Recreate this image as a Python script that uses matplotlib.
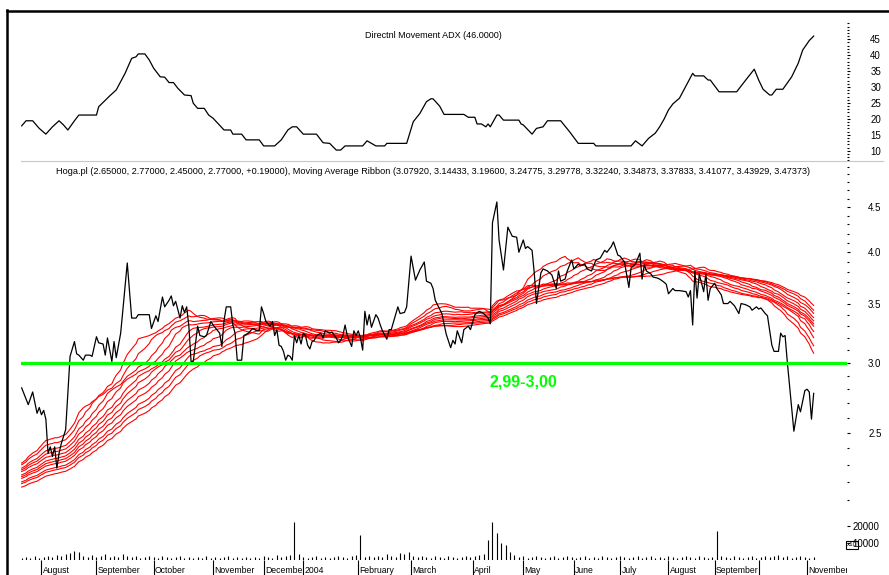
import numpy as np
import matplotlib
matplotlib.use("Agg")
import matplotlib.pyplot as plt
from matplotlib.lines import Line2D
from matplotlib.transforms import Bbox, TransformedBbox, blended_transform_factory
from matplotlib.ticker import FixedLocator, NullFormatter

plt.rcParams['font.family'] = ['Liberation Sans', 'DejaVu Sans']
plt.rcParams['font.size'] = 7

# Hoga.pl close, by session number
close_s = [0, 2, 3, 5, 7, 8, 9, 10, 11, 12, 13, 14, 15, 16, 17, 18, 20, 22, 24, 25,
           26, 28, 29, 31, 32, 34, 35, 37, 38, 39, 41, 42, 43, 45, 46, 48, 50, 52, 53, 56,
           58, 59, 61, 62, 64, 65, 67, 68, 69, 70, 72, 73, 74, 75, 76, 77, 78, 80, 81, 83,
           84, 86, 87, 90, 91, 92, 93, 95, 96, 97, 98, 100, 101, 103, 105, 107, 108, 109, 110, 111,
           112, 113, 114, 115, 116, 117, 118, 119, 120, 121, 122, 123, 124, 125, 126, 127, 128, 129, 130, 131,
           132, 133, 134, 136, 137, 138, 140, 141, 143, 144, 145, 146, 147, 148, 150, 151, 152, 153, 154, 155,
           156, 157, 158, 159, 161, 162, 163, 164, 166, 167, 168, 171, 172, 174, 175, 177, 179, 181, 183, 184,
           186, 187, 188, 190, 191, 193, 195, 196, 197, 198, 200, 201, 203, 204, 206, 208, 210, 212, 213, 214,
           216, 217, 219, 221, 223, 225, 226, 228, 229, 230, 232, 233, 234, 236, 237, 239, 241, 243, 244, 245,
           247, 248, 250, 251, 253, 254, 256, 257, 259, 260, 261, 263, 265, 266, 268, 269, 271, 272, 274, 276,
           277, 279, 281, 282, 283, 284, 286, 287, 289, 290, 292, 293, 294, 296, 297, 299, 302, 303, 304, 305,
           306, 307, 308, 310, 311, 312, 313, 315, 316, 318, 319, 321, 322, 324, 326, 327, 329, 331, 332, 334,
           335, 336, 338, 339, 341, 342, 344, 345, 346, 347, 348, 351, 353, 354, 356, 357, 358, 359, 360]
close = [2.81, 2.73, 2.69, 2.78, 2.63, 2.67, 2.62, 2.65, 2.59, 2.37, 2.41, 2.35, 2.41, 2.28, 2.37, 2.43, 2.52, 3.05, 3.17, 3.07,
         3.06, 3.02, 3.06, 3.06, 3.05, 3.21, 3.16, 3.15, 3.06, 3.20, 3.01, 3.17, 3.04, 3.24, 3.44, 3.89, 3.37, 3.37, 3.40, 3.40,
         3.40, 3.28, 3.39, 3.34, 3.56, 3.47, 3.53, 3.57, 3.48, 3.52, 3.37, 3.48, 3.42, 3.47, 3.30, 3.01, 3.01, 3.30, 3.22, 3.21,
         3.22, 3.34, 3.31, 3.24, 3.13, 3.35, 3.47, 3.47, 3.31, 3.24, 3.02, 3.02, 3.22, 3.24, 3.28, 3.26, 3.26, 3.47, 3.41, 3.34,
         3.32, 3.30, 3.34, 3.22, 3.27, 3.14, 3.13, 3.09, 3.02, 3.06, 3.05, 3.02, 3.22, 3.16, 3.22, 3.15, 3.24, 3.22, 3.14, 3.11,
         3.17, 3.18, 3.22, 3.24, 3.20, 3.26, 3.24, 3.25, 3.20, 3.16, 3.18, 3.22, 3.31, 3.22, 3.13, 3.26, 3.22, 3.26, 3.20, 3.10,
         3.43, 3.31, 3.40, 3.29, 3.40, 3.37, 3.31, 3.26, 3.19, 3.27, 3.27, 3.47, 3.41, 3.42, 3.47, 3.96, 3.72, 3.82, 3.90, 3.71,
         3.69, 3.64, 3.53, 3.45, 3.41, 3.23, 3.12, 3.18, 3.15, 3.26, 3.16, 3.27, 3.30, 3.27, 3.40, 3.43, 3.41, 3.37, 3.32, 4.32,
         4.56, 4.13, 3.82, 4.27, 4.17, 4.16, 4.00, 4.13, 4.04, 4.06, 4.02, 3.79, 3.50, 3.79, 3.83, 3.81, 3.77, 3.64, 3.81, 3.71,
         3.73, 3.81, 3.92, 3.83, 3.88, 3.86, 3.88, 3.83, 3.81, 3.86, 3.92, 3.94, 4.02, 4.00, 4.06, 4.11, 3.97, 3.96, 3.90, 3.65,
         3.84, 3.88, 3.99, 3.73, 3.87, 3.81, 3.78, 3.75, 3.74, 3.73, 3.70, 3.68, 3.59, 3.64, 3.62, 3.62, 3.61, 3.56, 3.62, 3.31,
         3.81, 3.55, 3.78, 3.61, 3.78, 3.53, 3.64, 3.69, 3.64, 3.58, 3.50, 3.50, 3.52, 3.48, 3.41, 3.50, 3.49, 3.47, 3.44, 3.47,
         3.45, 3.46, 3.41, 3.39, 3.14, 3.09, 3.09, 3.24, 3.21, 3.22, 3.01, 2.51, 2.69, 2.64, 2.79, 2.80, 2.78, 2.59, 2.77]

# Directional Movement ADX
adx_s = [0, 2, 5, 8, 11, 14, 17, 19, 21, 24, 26, 34, 35, 40, 43, 47, 50, 52, 53, 56,
         58, 60, 63, 65, 67, 69, 71, 74, 77, 78, 80, 83, 85, 87, 92, 95, 96, 100, 102, 108,
         110, 115, 118, 121, 123, 125, 128, 134, 137, 140, 143, 145, 147, 155, 157, 161, 165, 166, 175, 178,
         181, 184, 186, 187, 190, 192, 201, 203, 206, 207, 209, 211, 212, 213, 216, 217, 219, 226, 227, 228,
         232, 234, 237, 239, 245, 249, 253, 260, 261, 277, 279, 282, 285, 288, 290, 292, 294, 296, 299, 301,
         303, 305, 306, 310, 312, 313, 317, 325, 328, 333, 335, 337, 340, 341, 343, 346, 350, 353, 355, 358, 360]
adx = [17.8, 19.4, 19.4, 17.0, 15.2, 17.5, 19.4, 18.1, 16.5, 19.4, 21.2, 21.2, 23.8, 27.2, 29.1, 34.3, 39.0, 39.5, 40.4, 40.4,
       38.5, 35.9, 33.2, 33.1, 31.4, 31.4, 29.6, 27.5, 27.3, 24.9, 23.3, 23.3, 21.2, 20.2, 16.5, 16.5, 15.2, 15.2, 13.4, 13.4,
       11.5, 11.5, 13.4, 16.5, 17.5, 17.5, 15.2, 15.2, 12.5, 12.3, 10.2, 10.2, 11.5, 11.5, 13.1, 11.5, 11.5, 12.3, 12.3, 19.1,
       21.7, 25.4, 26.3, 26.3, 24.0, 21.4, 21.4, 20.5, 20.5, 18.4, 18.4, 17.5, 18.4, 17.5, 21.2, 21.2, 19.6, 19.6, 18.4, 18.1,
       15.2, 17.0, 17.5, 19.4, 19.4, 16.0, 12.3, 12.3, 11.5, 11.5, 13.1, 11.5, 13.9, 15.5, 17.5, 19.9, 22.8, 24.7, 26.5, 29.1,
       31.7, 34.3, 33.5, 33.5, 32.2, 32.2, 28.5, 28.5, 31.2, 35.6, 32.2, 29.3, 27.5, 27.5, 29.3, 29.3, 33.2, 37.5, 41.6, 44.6, 46.0]

# moving average ribbon: window (in closes) and value at the first session
ribbon_windows = [22, 26, 31, 35, 40, 43, 47, 51, 56, 60, 65]
ribbon_first = [2.31, 2.30, 2.28, 2.27, 2.26, 2.24, 2.23, 2.22, 2.20, 2.19, 2.17]

# volume, every second session
vol_s = list(range(0, 361, 2))
vol = [1200, 1800, 1200, 2400, 1200, 1800, 2400, 1800, 3000, 2400,
       3600, 4200, 5400, 4800, 2400, 1800, 3000, 1800, 2400, 3600,
       1800, 2400, 1800, 3600, 2400, 1800, 2400, 1200, 1800, 2400,
       1800, 1200, 2400, 1800, 1200, 1800, 2400, 1200, 1800, 1200,
       1800, 1200, 2400, 1200, 1800, 1200, 1800, 2400, 1200, 1800,
       1200, 1800, 1200, 1800, 1200, 2400, 1800, 1200, 3000, 1800,
       2400, 3000, 22500, 3600, 1800, 1200, 1800, 2400, 1200, 1800,
       1200, 1800, 2400, 1800, 1200, 2400, 3000, 14700, 1800, 2400,
       1800, 2400, 1800, 3600, 2400, 1800, 4200, 3600, 4800, 2400,
       1800, 2400, 1800, 1200, 2400, 1800, 1200, 2400, 1800, 1200,
       1800, 2400, 1800, 2400, 3000, 3600, 11800, 22500, 16000, 10000,
       8800, 4800, 3000, 1800, 2400, 1200, 1800, 2400, 1800, 1200,
       1800, 2400, 1200, 1800, 2400, 1800, 1200, 1800, 2400, 1200,
       1800, 1200, 2400, 1800, 1200, 1800, 2400, 1800, 1200, 1800,
       2400, 1200, 1800, 2400, 1200, 1800, 1200, 2400, 1800, 1200,
       1800, 2400, 1800, 1200, 2400, 1800, 1200, 1800, 17200, 2400,
       1800, 1200, 2400, 1800, 1200, 1800, 2400, 1200, 1800, 2400,
       1800, 2400, 3000, 1800, 2400, 1200, 1800, 2400, 1800, 1200,
       1800]

# first session of each month
month_s = [9, 34, 60, 87, 110, 128, 153, 177, 205, 228, 251, 272, 294, 315, 335, 357]
month_lbl = ['August', 'September', 'October', 'November', 'December', '2004', 'February',
             'March', 'April', 'May', 'June', 'July', 'August', 'September', '', 'November']

price_ticks = [2.5, 3.0, 3.5, 4.0, 4.5]
level = 3.0
level_txt = '2,99-3,00'


def ribbon_line(window, first):
    # simple moving average; closes before the chart are taken as one flat level
    pre = (window * first - close[0]) / (window - 1)
    out = []
    for i in range(len(close)):
        seen = close[max(0, i - window + 1):i + 1]
        out.append((sum(seen) + (window - len(seen)) * pre) / window)
    return out


W, H = 889, 575
fig = plt.figure(figsize=(W / 100, H / 100), dpi=100)


def box(x0, y0, x1, y1):
    return [x0 / W, 1 - y1 / H, (x1 - x0) / W, (y1 - y0) / H]


ax_adx = fig.add_axes(box(21, 10, 847, 161))
ax_p = fig.add_axes(box(21, 162, 847, 517))
ax_v = fig.add_axes(box(21, 517, 847, 560))
ax_v.set_zorder(5)

for ax in (ax_adx, ax_p, ax_v):
    ax.set_xlim(-0.3, 375.15)
    ax.patch.set_visible(False)
    for sp in ax.spines.values():
        sp.set_visible(False)
    ax.yaxis.tick_right()
    ax.tick_params(axis='y', which='major', length=2.2, width=0.8, labelsize=7)
    ax.tick_params(axis='y', which='minor', length=1.2, width=0.8)

# ADX panel
ax_adx.plot(adx_s, adx, color='black', lw=0.9)
ax_adx.set_ylim(6.76, 54.2)
ax_adx.set_xticks([])
ax_adx.yaxis.set_major_locator(FixedLocator(list(range(10, 50, 5))))
ax_adx.yaxis.set_minor_locator(FixedLocator(list(range(7, 51))))
ax_adx.tick_params(axis='y', which='major', pad=14.5)
fig.text(433 / W, 1 - 36 / H, 'Directnl Movement ADX (46.0000)', ha='center', va='center', fontsize=6.5)

# price panel
for window, first in zip(ribbon_windows, ribbon_first):
    ax_p.plot(close_s, ribbon_line(window, first), color='red', lw=0.8)
ax_p.plot(close_s, close, color='black', lw=0.9, zorder=3)
ax_p.axhline(level, color='#00ff00', lw=2.3, zorder=4)
ax_p.text(212.5, 2.853, level_txt, color='#00ff00', fontsize=11.5, fontweight='bold',
          ha='left', va='center')
ax_p.set_yscale('log')
ax_p.set_ylim(2.0075, 5.06)
ax_p.set_xticks([])
ax_p.yaxis.set_major_locator(FixedLocator(price_ticks))
ax_p.yaxis.set_major_formatter(plt.FixedFormatter(['%.1f' % t for t in price_ticks]))
ax_p.yaxis.set_minor_locator(FixedLocator(np.round(np.arange(2.0, 5.05, 0.1), 1)))
ax_p.yaxis.set_minor_formatter(NullFormatter())
ax_p.tick_params(axis='y', which='major', pad=13)

title = ('Hoga.pl (2.65000, 2.77000, 2.45000, 2.77000, +0.19000), Moving Average Ribbon '
         '(3.07920, 3.14433, 3.19600, 3.24775, 3.29778, 3.32240, 3.34873, 3.37833, 3.41077, '
         '3.43929, 3.47373)')
fig.text(433 / W, 1 - 172 / H, title, ha='center', va='center', fontsize=6.6)

# volume panel
ax_v.vlines(vol_s, 0, vol, color='black', lw=0.8)
ax_v.set_ylim(0, 25300)
ax_v.yaxis.set_major_locator(FixedLocator([10000, 20000]))
ax_v.yaxis.set_major_formatter(plt.FixedFormatter(['10000', '20000']))
ax_v.tick_params(axis='y', which='major', pad=1.5)
ax_v.set_xticks(month_s)
ax_v.tick_params(axis='x', length=11, width=0.8, direction='out', labelbottom=False)
fig.text(847 / W, 1 - 545 / H, 'x10', fontsize=4.5, ha='left', va='center',
         bbox=dict(facecolor='white', edgecolor='black', lw=0.8, pad=0.8))

tr = blended_transform_factory(ax_v.transData, fig.transFigure)
clip = TransformedBbox(Bbox([[21 / W, 0], [847 / W, 1]]), fig.transFigure)
for m, lbl in zip(month_s, month_lbl):
    if not lbl:
        continue
    t = fig.text(m + 0.6, 1 - 573 / H, lbl, transform=tr, ha='left', va='baseline',
                 fontsize=6.2, zorder=1,
                 bbox=dict(facecolor='white', edgecolor='none', pad=0.2))
    t.set_clip_box(clip)
    t.set_clip_on(True)

# frame lines
fig.add_artist(Line2D([7 / W, 7 / W], [0, 1 - 10 / H], color='black', lw=1.8))
fig.add_artist(Line2D([7 / W, 1], [1 - 11 / H, 1 - 11 / H], color='black', lw=1.8))
fig.add_artist(Line2D([21 / W, 883 / W], [1 - 161 / H, 1 - 161 / H], color='#c8c8c8', lw=0.8))

fig.savefig('out.png', dpi=100)
